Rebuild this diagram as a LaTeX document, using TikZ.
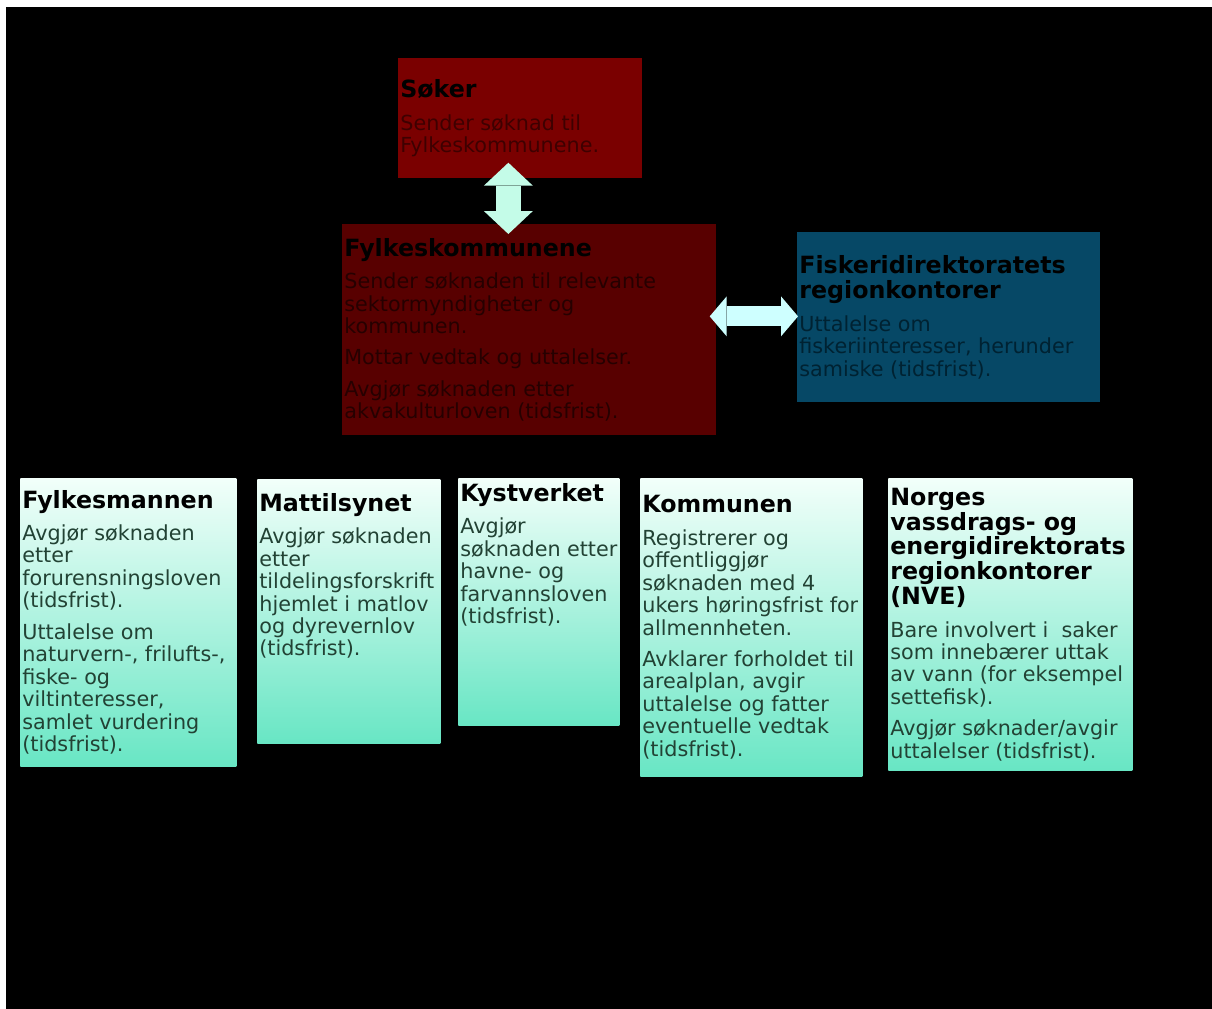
\documentclass[tikz,border=0pt]{standalone}
\usepackage{fontspec}
\setmainfont{DejaVu Sans}
\usepackage{tikz}
\usetikzlibrary{arrows.meta, calc}
\definecolor{sokred}{RGB}{122,0,0}
\definecolor{fkred}{RGB}{88,0,0}
\definecolor{fdblue}{RGB}{6,72,102}
\definecolor{sokink}{RGB}{62,0,0}
\definecolor{fkink}{RGB}{38,0,0}
\definecolor{fdink}{RGB}{0,34,50}
\definecolor{celltop}{RGB}{242,255,250}
\definecolor{cellbot}{RGB}{104,230,196}
\definecolor{cellink}{RGB}{34,66,52}
\definecolor{arrowv}{RGB}{196,252,232}
\definecolor{arrowh}{RGB}{206,255,255}
\newlength{\pxl}\setlength{\pxl}{0.02cm}
\newcommand{\bodysize}{\fontsize{11.8}{12.8}\selectfont}
\newcommand{\head}[1]{{\fontsize{13.5}{14.2}\selectfont\bfseries\color{black}#1\par}\vspace{5.5pt}}
\newcommand{\cellpar}{\par\vspace{5pt}}
\newcommand{\cell}[4][c]{\parbox[c][#3\pxl][#1]{#2\pxl}{\raggedright\bodysize #4}}
\tikzset{
  darkbox/.style={fill=#1, inner sep=2\pxl, anchor=north west},
  cellbox/.style={top color=celltop, bottom color=cellbot, inner sep=2\pxl, anchor=north west, text=cellink},
  vlink/.style={draw=arrowv, line width=0.5cm,
    {Triangle[length=0.46cm,width=0.98cm,line width=0pt]}-{Triangle[length=0.46cm,width=0.98cm,line width=0pt]}},
  hlink/.style={draw=arrowh, line width=0.4cm,
    {Triangle[length=0.34cm,width=0.8cm,line width=0pt]}-{Triangle[length=0.34cm,width=0.8cm,line width=0pt]}}
}
\begin{document}
\begin{tikzpicture}[x=0.02cm, y=-0.02cm]
  \useasboundingbox (0,0) rectangle (1212,1008);
  \fill[white] (0,0) rectangle (1212,1008);
  \fill[black] (6,7) rectangle (1225,1020);

  \node[darkbox=sokred, text=sokink] (soker) at (398,58)
    {\cell{240}{116}{\head{Søker}Sender søknad til\\ Fylkeskommunene.}};
  \node[darkbox=fkred, text=fkink] (fylke) at (342,224)
    {\cell{370}{207}{\head{Fylkeskommunene}Sender søknaden til relevante\\ sektormyndigheter og\\ kommunen.\cellpar
     Mottar vedtak og uttalelser.\cellpar
     Avgjør søknaden etter\\ akvakulturloven (tidsfrist).}};
  \node[darkbox=fdblue, text=fdink] (fisk) at (797,232)
    {\cell{299}{166}{\head{Fiskeridirektoratets\\ regionkontorer}Uttalelse om\\ fiskeriinteresser, herunder\\ samiske (tidsfrist).}};

  \draw[vlink] ($(soker.south)+(-12,-16)$) -- ($(soker.south |- fylke.north)+(-12,10)$);
  \draw[hlink] ($(fylke.east |- fisk.west)+(-7,-1)$) -- ($(fisk.west)+(1,-1)$);

  \node[cellbox] (fmann) at (20,478)
    {\cell{212}{284}{\head{Fylkesmannen}Avgjør søknaden\\ etter\\ forurensningsloven\\ (tidsfrist).\cellpar
     Uttalelse om\\ naturvern-, frilufts-,\\ fiske- og\\ viltinteresser,\\ samlet vurdering\\ (tidsfrist).}};
  \node[cellbox] (matt) at (257,479)
    {\cell[t]{179}{260}{\vspace*{12\pxl}\head{Mattilsynet}Avgjør søknaden\\ etter\\ tildelingsforskrift\\ hjemlet i matlov\\ og dyrevernlov\\ (tidsfrist).}};
  \node[cellbox] (kyst) at (458,478)
    {\cell[t]{157}{243}{\vspace*{3\pxl}\head{Kystverket}Avgjør\\ søknaden etter\\ havne- og\\ farvannsloven\\ (tidsfrist).}};
  \node[cellbox] (komm) at (640,478)
    {\cell{218}{294}{\head{Kommunen}Registrerer og\\ offentliggjør\\ søknaden med 4\\ ukers høringsfrist for\\ allmennheten.\cellpar
     Avklarer forholdet til\\ arealplan, avgir\\ uttalelse og fatter\\ eventuelle vedtak\\ (tidsfrist).}};
  \node[cellbox] (nve) at (888,478)
    {\cell{240}{288}{\head{Norges\\ vassdrags- og\\ energidirektorats\\ regionkontorer\\ (NVE)}Bare involvert i~ saker\\ som innebærer uttak\\ av vann (for eksempel\\ settefisk).\cellpar
     Avgjør søknader/avgir\\ uttalelser (tidsfrist).}};
\end{tikzpicture}
\end{document}
